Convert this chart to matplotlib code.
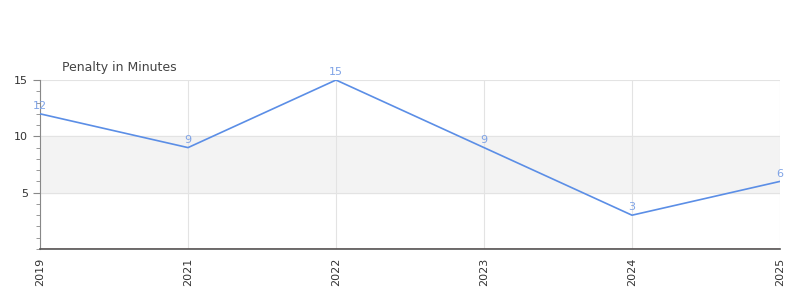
import matplotlib.pyplot as plt
from matplotlib.ticker import MultipleLocator

years = ['2019', '2021', '2022', '2023', '2024', '2025']
penalty = [12, 9, 15, 9, 3, 6]

fig = plt.figure(figsize=(8, 3), dpi=100)
ax = fig.add_axes([0.05, 0.17, 0.925, 0.5633])

x = list(range(len(years)))
ax.axhspan(5, 10, color='#f3f3f3', zorder=0)
ax.plot(x, penalty, color='#5b8ee6', lw=1.2, zorder=3)
for xi, v in zip(x, penalty):
    ax.annotate(str(v), (xi, v), xytext=(0, 2), textcoords='offset points',
                ha='center', va='bottom', fontsize=8, color='#7fa3e6', zorder=4)

ax.axhline(0, color='#cc0000', lw=1, zorder=2)

ax.set_xlim(0, len(years) - 1)
ax.set_ylim(0, 15)
ax.set_xticks(x)
ax.set_xticklabels(years, rotation=90, fontsize=8, color='#333333')
ax.set_yticks([5, 10, 15])
ax.set_yticklabels(['5', '10', '15'], fontsize=8, color='#333333')
ax.yaxis.set_minor_locator(MultipleLocator(1))

ax.grid(True, color='#e3e3e3', lw=0.8, zorder=1)
ax.set_axisbelow(True)
for s in ['top', 'right']:
    ax.spines[s].set_visible(False)
ax.spines['left'].set_color('#888888')
ax.spines['bottom'].set_color('#555555')
ax.spines['bottom'].set_linewidth(1.2)
ax.tick_params(axis='y', which='both', color='#888888', length=5)
ax.tick_params(axis='y', which='minor', length=3)
ax.tick_params(axis='x', length=0, pad=6)

fig.text(62 / 800, 1 - 67 / 300, 'Penalty in Minutes', fontsize=9,
         color='#444444', ha='left', va='center')

fig.savefig('out.png', dpi=100)
